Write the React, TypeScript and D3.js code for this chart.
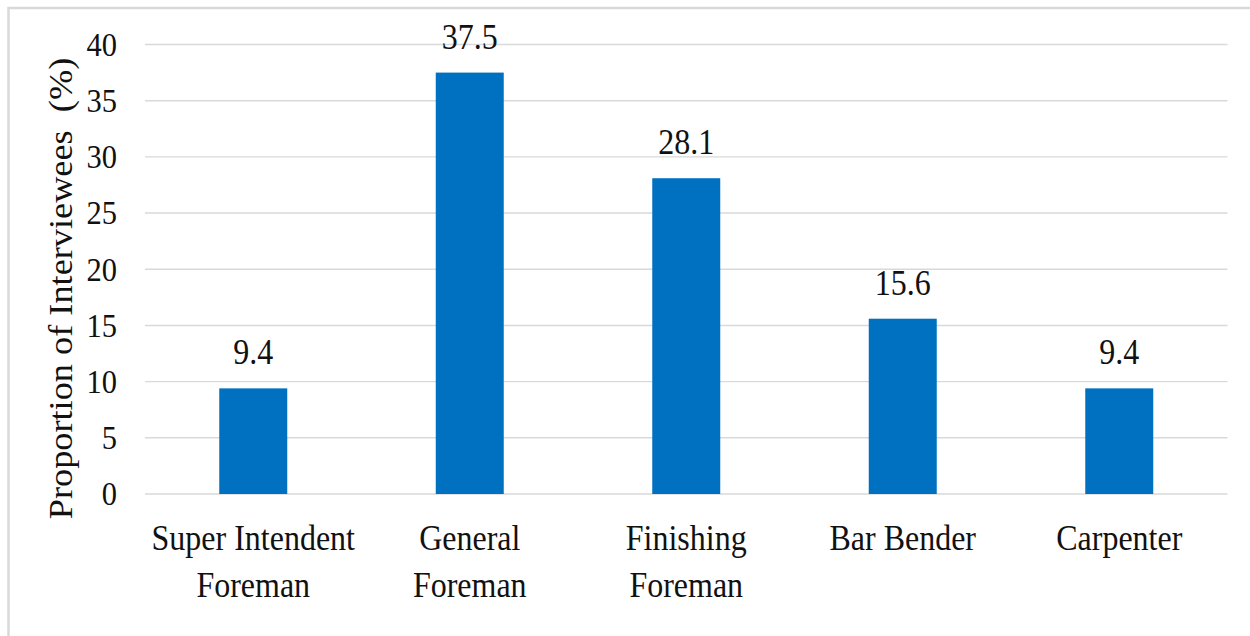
import { useEffect, useRef } from 'react';
import * as d3 from 'd3';

// chart data
const categories = ['Super Intendent\nForeman', 'General\nForeman', 'Finishing\nForeman', 'Bar Bender', 'Carpenter'];
const proportions = [9.4, 37.5, 28.1, 15.6, 9.4];
const yTicks = [0, 5, 10, 15, 20, 25, 30, 35, 40];
const yTitle = 'Proportion of Interviewees  (%)';

const WIDTH = 1250;
const HEIGHT = 636;
const FONT = '"Liberation Serif", "Times New Roman", serif';
const STRETCH = 1.1; // the reference text is slightly taller than it is wide

export default function App() {
  const svgRef = useRef<SVGSVGElement>(null);

  useEffect(() => {
    const svg = d3.select(svgRef.current);
    svg.selectAll('*').remove();

    const plot = { left: 145, right: 1227.5, top: 44.5, bottom: 494 };

    const xScale = d3.scaleBand<string>()
      .domain(categories)
      .range([plot.left, plot.right])
      .paddingInner(0.686)
      .paddingOuter(0.343);

    const yScale = d3.scaleLinear()
      .domain([0, 40])
      .range([plot.bottom, plot.top]);

    // outer frame
    svg.append('rect')
      .attr('x', 8.5)
      .attr('y', 8)
      .attr('width', WIDTH + 20)
      .attr('height', HEIGHT + 20)
      .attr('fill', '#fff')
      .attr('stroke', '#d9d9d9')
      .attr('stroke-width', 2.5);

    // grid lines
    svg.selectAll('.grid-line-y')
      .data(yTicks)
      .enter().append('line')
      .attr('class', 'grid-line-y')
      .attr('x1', plot.left)
      .attr('x2', plot.right)
      .attr('y1', d => yScale(d))
      .attr('y2', d => yScale(d))
      .style('stroke', '#d9d9d9')
      .style('stroke-width', 1.4);

    // tick labels
    svg.selectAll('.tick-label')
      .data(yTicks)
      .enter().append('text')
      .attr('class', 'tick-label')
      .attr('transform', d => `translate(117,${yScale(d)}) scale(1,1.07)`)
      .attr('dy', '0.35em')
      .attr('text-anchor', 'end')
      .style('font-family', FONT)
      .style('font-size', '30.5px')
      .style('fill', '#111')
      .text(d => d);

    // bars
    svg.selectAll('.bar')
      .data(proportions)
      .enter().append('rect')
      .attr('class', 'bar')
      .attr('x', (d, i) => xScale(categories[i])!)
      .attr('width', xScale.bandwidth())
      .attr('y', d => yScale(d))
      .attr('height', d => plot.bottom - yScale(d))
      .attr('fill', '#0070c0');

    // value labels
    svg.selectAll('.value-label')
      .data(proportions)
      .enter().append('text')
      .attr('class', 'value-label')
      .attr('transform', (d, i) =>
        `translate(${xScale(categories[i])! + xScale.bandwidth() / 2},${yScale(d) - 24}) scale(1,${STRETCH})`)
      .attr('text-anchor', 'middle')
      .style('font-family', FONT)
      .style('font-size', '32px')
      .style('fill', '#111')
      .text(d => d.toFixed(1));

    // category labels, one text per line
    categories.forEach(cat => {
      const cx = xScale(cat)! + xScale.bandwidth() / 2;
      cat.split('\n').forEach((line, j) => {
        svg.append('text')
          .attr('transform', `translate(${cx},${550 + j * 47}) scale(1,${STRETCH})`)
          .attr('text-anchor', 'middle')
          .style('font-family', FONT)
          .style('font-size', '32px')
          .style('fill', '#111')
          .text(line);
      });
    });

    // y axis title
    svg.append('text')
      .attr('transform', `translate(72,288.5) scale(1,${STRETCH}) rotate(-90)`)
      .attr('text-anchor', 'middle')
      .style('font-family', FONT)
      .style('font-size', '33px')
      .style('fill', '#111')
      .style('white-space', 'pre')
      .text(yTitle);
  }, []);

  return (
    <svg
      ref={svgRef}
      width={WIDTH}
      height={HEIGHT}
      style={{ position: 'absolute', left: 0, top: 0, background: '#fff' }}
    />
  );
}
